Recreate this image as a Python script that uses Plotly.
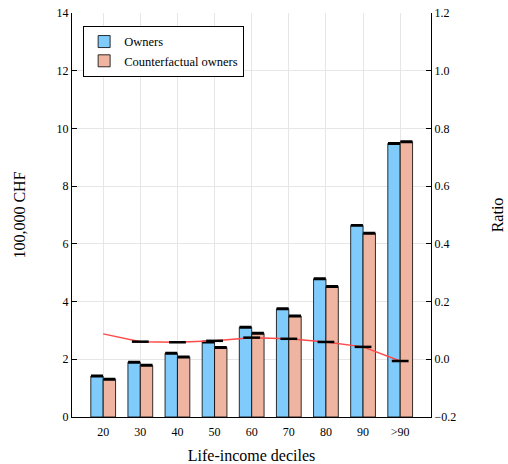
import plotly.graph_objects as go

categories = ["20", "30", "40", "50", "60", "70", "80", "90", ">90"]
owners = [1.42, 1.90, 2.21, 2.60, 3.11, 3.75, 4.79, 6.64, 9.48]
counterfactual = [1.31, 1.79, 2.08, 2.41, 2.90, 3.50, 4.52, 6.37, 9.54]
ratio = [0.088, 0.061, 0.059, 0.064, 0.075, 0.071, 0.060, 0.043, -0.006]

xpos = list(range(len(categories)))
FONT = "Liberation Serif"

fig = go.Figure()
fig.add_trace(go.Bar(
    x=xpos, y=owners, name="Owners",
    marker=dict(color="#7FCBFC", line=dict(color="rgba(0,0,0,0.8)", width=1)),
    error_y=dict(type="data", array=[0.025] * len(owners), color="black", thickness=1.5, width=6),
))
fig.add_trace(go.Bar(
    x=xpos, y=counterfactual, name="Counterfactual owners",
    marker=dict(color="#F0B5A0", line=dict(color="rgba(0,0,0,0.8)", width=1)),
    error_y=dict(type="data", array=[0.025] * len(counterfactual), color="black", thickness=1.5, width=6),
))
fig.add_trace(go.Scatter(
    x=xpos, y=ratio, yaxis="y2", mode="lines",
    line=dict(color="#FF4A4A", width=1.5), showlegend=False,
))
fig.add_trace(go.Scatter(
    x=xpos[1:], y=ratio[1:], yaxis="y2", mode="markers",
    marker=dict(symbol="line-ew-open", size=12, color="black", line=dict(color="black", width=2.5)),
    showlegend=False,
))

fig.update_layout(
    width=508, height=464,
    margin=dict(l=72, r=77, t=13, b=47, autoexpand=False),
    paper_bgcolor="white", plot_bgcolor="white",
    barmode="group", bargap=0.333, bargroupgap=0,
    font=dict(family=FONT, size=12, color="black"),
    legend=dict(
        x=0.031, y=0.968, xanchor="left", yanchor="top",
        bgcolor="white", bordercolor="black", borderwidth=1,
        font=dict(family=FONT, size=12.5),
        tracegroupgap=0, itemwidth=30,
    ),
    xaxis=dict(
        range=[-0.84, 8.83], tickvals=xpos, ticktext=categories,
        showgrid=True, gridcolor="#E6E6E6", gridwidth=1,
        showline=True, linecolor="black", linewidth=1.2,
        ticks="outside", ticklen=3, tickcolor="rgba(0,0,0,0)", zeroline=False,
        automargin=False,
        title=dict(text="Life-income deciles", font=dict(family=FONT, size=16), standoff=17),
        tickfont=dict(family=FONT, size=12),
    ),
    yaxis=dict(
        range=[0, 14], dtick=2,
        showgrid=True, gridcolor="#E6E6E6", gridwidth=1,
        showline=True, linecolor="black", linewidth=1.2,
        ticks="inside", ticklen=5, tickcolor="black", zeroline=False,
        automargin=False,
        title=dict(text="100,000 CHF", font=dict(family=FONT, size=16), standoff=26),
        tickfont=dict(family=FONT, size=12),
    ),
    yaxis2=dict(
        overlaying="y", side="right",
        range=[-0.2, 1.2], dtick=0.2, tickformat=".1f",
        showgrid=False, zeroline=False,
        showline=True, linecolor="black", linewidth=1.2,
        ticks="inside", ticklen=5, tickcolor="black",
        automargin=False,
        title=dict(text="Ratio", font=dict(family=FONT, size=16), standoff=36),
        tickfont=dict(family=FONT, size=12),
    ),
)

fig.write_html("out.html")
